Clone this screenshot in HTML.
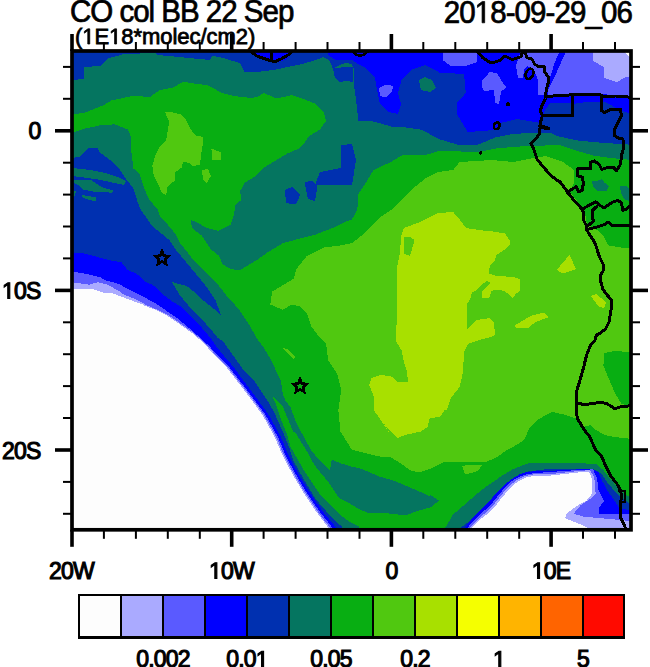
<!DOCTYPE html>
<html><head><meta charset="utf-8">
<style>
html,body{margin:0;padding:0;background:#fff;width:650px;height:667px;overflow:hidden}
svg{position:absolute;left:0;top:0;display:block}
text{font-family:"Liberation Sans",sans-serif;fill:#000;stroke:#000}
</style></head><body>
<svg width="650" height="667" viewBox="0 0 650 667">
<defs><clipPath id="mc"><rect x="72" y="50" width="560" height="480"/></clipPath></defs>
<g clip-path="url(#mc)" shape-rendering="crispEdges">
<rect x="72" y="50" width="560" height="480" fill="#fdfdfd"/>
<path fill="#aaaaff" fill-rule="evenodd" d="M72,50 H632 V530 H72 Z M72.0,288.6 L94.2,289.5 L105.2,293.2 L112.6,293.2 L118.8,295.7 L123.7,297.5 L133.5,301.2 L141.0,303.7 L145.8,306.2 L152.0,308.6 L154.8,309.4 L164.6,314.3 L174.5,320.5 L183.0,326.6 L191.7,332.8 L199.0,339.0 L206.5,346.3 L213.0,353.7 L225.8,366.6 L240.0,384.8 L247.4,394.6 L254.8,404.5 L262.0,414.3 L268.3,425.4 L274.5,436.5 L279.4,448.0 L281.2,452.5 L287.4,464.8 L294.8,478.3 L302.2,490.6 L309.5,501.7 L317.0,512.8 L325.5,523.8 L330.0,530.0 L72.0,530.0 Z M470.0,530.0 L471.5,527.7 L480.8,519.0 L488.5,513.0 L494.6,507.0 L500.8,499.0 L507.0,491.5 L513.0,485.4 L519.0,480.8 L525.4,477.7 L535.0,475.5 L550.0,475.6 L575.0,472.8 L588.8,471.5 L591.5,477.7 L591.5,494.3 L586.0,501.2 L577.7,505.4 L572.0,509.5 L566.6,513.7 L565.2,518.0 L570.8,520.6 L581.8,524.8 L587.4,528.0 L588.0,530.0 L470.0,530.0 Z M623.0,50.0 L632.0,50.0 L632.0,58.0 L627.0,55.0 Z "/>
<path fill="#5a5aff" fill-rule="evenodd" d="M72,50 H632 V530 H72 Z M72.0,282.2 L84.0,284.0 L89.2,284.6 L97.8,282.2 L102.8,283.4 L109.0,285.2 L113.8,288.3 L118.8,290.8 L123.7,294.5 L129.8,297.0 L136.0,299.4 L142.2,302.5 L147.0,305.5 L152.0,307.4 L164.6,313.0 L174.5,319.3 L183.0,325.4 L191.7,331.6 L199.0,337.8 L208.0,346.3 L214.5,353.7 L227.3,366.6 L241.5,384.8 L248.9,394.6 L256.3,404.5 L263.5,414.3 L269.8,425.4 L276.0,436.5 L280.9,448.0 L282.7,452.5 L288.9,464.8 L296.3,478.3 L303.7,490.6 L311.0,501.7 L318.5,512.8 L327.0,523.8 L331.5,530.0 L72.0,530.0 Z M468.0,530.0 L469.5,527.7 L479.0,518.0 L487.0,511.5 L493.0,505.5 L499.3,497.5 L505.5,490.0 L511.5,484.0 L518.0,479.3 L525.0,476.2 L535.0,474.2 L550.0,474.2 L575.0,471.4 L590.0,470.0 L594.3,477.7 L595.7,494.3 L588.8,500.0 L580.5,505.4 L573.5,513.7 L583.2,516.5 L598.5,518.0 L612.3,519.2 L626.0,520.6 L632.0,522.0 L632.0,530.0 Z M593.2,50.0 L593.2,60.8 L604.0,67.2 L604.0,78.0 L617.0,82.3 L623.4,78.0 L632.0,75.8 L632.0,50.0 Z "/>
<path fill="#0000ff" fill-rule="evenodd" d="M72,50 H632 V530 H72 Z M72.0,271.7 L84.3,273.5 L93.0,275.4 L100.3,277.2 L105.2,280.3 L112.6,282.2 L120.0,284.6 L126.2,288.3 L133.5,292.0 L141.0,295.7 L148.3,299.4 L154.8,303.0 L162.0,307.5 L169.5,313.0 L177.0,318.0 L184.3,324.0 L191.7,330.3 L199.0,336.8 L209.5,346.3 L216.0,353.7 L228.8,366.6 L243.1,384.8 L250.5,394.6 L257.9,404.5 L265.1,414.3 L271.5,425.4 L277.7,436.5 L282.6,448.0 L284.4,452.5 L290.6,464.8 L298.1,478.3 L305.5,490.6 L312.8,501.7 L320.6,512.8 L329.4,523.8 L334.0,530.0 L72.0,530.0 Z M466.0,530.0 L467.5,527.7 L477.0,517.0 L485.0,510.0 L491.5,504.0 L497.8,496.0 L504.0,488.5 L510.0,482.5 L517.0,477.8 L524.6,474.7 L535.0,473.0 L550.0,472.0 L577.7,470.0 L593.0,469.4 L597.0,477.7 L598.5,490.0 L604.0,501.2 L598.5,508.0 L598.5,513.7 L612.3,513.7 L632.0,513.7 L632.0,530.0 Z M565.2,50.0 L632.0,50.0 L632.0,96.3 L599.7,94.0 L573.8,94.0 L548.0,96.3 L548.0,90.0 L550.5,85.0 L553.0,80.0 L556.6,72.6 L560.3,64.0 L565.2,53.0 Z M521.0,50.0 L559.0,50.0 L559.0,53.0 L554.0,64.0 L551.7,72.6 L549.2,80.0 L548.0,83.7 L546.0,90.0 L545.5,95.0 L538.0,95.0 L538.0,80.0 L534.0,70.0 L527.0,66.0 L524.0,70.0 L523.0,78.0 L518.0,78.0 L516.0,66.0 L518.0,60.0 Z M442.5,50.0 L442.5,60.0 L450.0,65.5 L465.0,66.0 L477.0,62.0 L477.0,50.0 Z "/>
<polygon fill="#5a5aff" points="482.5,80.3 489.8,72.0 497.2,73.0 501.0,80.3 506.5,87.7 501.0,91.4 499.0,104.3 495.4,102.5 493.5,89.5 484.3,91.4 481.5,85.8"/>
<polygon fill="#5a5aff" points="538.0,75.0 546.0,73.0 548.0,85.0 546.0,95.0 539.0,94.0"/>
<polygon fill="#5a5aff" points="379.0,88.0 386.0,84.5 393.0,86.0 392.0,92.0 386.0,97.4 380.0,96.0"/>
<path fill="#0030b0" fill-rule="evenodd" d="M72,50 H632 V530 H72 Z M72.0,252.3 L84.3,253.5 L94.0,256.0 L102.8,258.5 L112.6,261.0 L121.2,262.0 L127.4,269.8 L136.0,273.5 L141.0,277.2 L145.8,282.2 L152.0,284.6 L157.2,288.5 L164.6,295.8 L173.2,302.0 L181.8,307.0 L189.2,314.3 L196.6,321.7 L204.0,330.3 L211.4,339.0 L216.3,346.3 L222.0,353.7 L233.2,366.6 L246.6,384.8 L253.9,394.6 L261.2,404.5 L268.3,414.3 L274.5,425.4 L280.6,436.5 L285.4,448.0 L287.2,452.5 L293.4,464.8 L300.8,478.3 L308.3,490.6 L315.8,501.7 L323.8,512.8 L333.1,523.8 L338.0,530.0 L72.0,530.0 Z M463.0,530.0 L465.0,527.7 L474.5,515.5 L482.5,508.0 L489.5,501.5 L495.5,494.0 L502.0,486.5 L508.5,480.5 L516.0,475.5 L524.0,472.5 L535.0,471.2 L550.0,470.8 L591.5,468.7 L598.5,472.2 L602.6,481.8 L608.0,491.5 L615.0,501.2 L619.2,508.0 L632.0,511.0 L632.0,530.0 Z M328.0,50.0 L632.0,50.0 L632.0,114.6 L621.0,110.3 L604.0,101.7 L589.0,101.7 L573.8,103.8 L560.0,102.5 L550.8,102.5 L545.0,110.0 L541.0,122.0 L539.7,122.8 L528.6,121.0 L517.5,119.0 L501.0,122.8 L495.4,130.0 L467.7,132.0 L462.2,122.8 L456.6,113.5 L456.6,102.5 L465.8,93.2 L464.0,73.8 L440.0,73.0 L438.0,71.5 L425.2,65.0 L412.3,69.4 L401.5,80.0 L398.0,93.0 L401.0,104.0 L398.0,114.0 L388.0,112.0 L380.0,104.0 L377.0,90.0 L375.0,78.0 L366.0,68.0 L358.0,64.0 L352.0,60.0 L345.0,60.0 L335.0,59.5 L328.0,55.0 Z M250.0,50.0 L296.0,50.0 L285.0,60.0 L274.5,63.0 L262.0,58.0 Z "/>
<polygon fill="#0030b0" points="401.5,80.0 412.3,69.4 425.2,65.0 438.0,71.5 440.0,73.0 464.0,73.8 465.8,93.2 456.6,102.5 456.6,113.5 462.2,122.8 467.7,132.0 440.0,135.0 420.0,128.0 400.0,121.0 398.0,114.0 401.0,104.0 398.0,93.0"/>
<path fill="#057560" fill-rule="evenodd" d="M72,50 H632 V530 H72 Z M72.0,50.0 L632.0,50.0 L632.0,144.8 L599.7,142.6 L578.0,140.5 L556.6,136.0 L550.8,133.0 L532.3,133.0 L513.8,133.8 L495.4,137.5 L477.0,145.0 L458.5,145.0 L440.0,139.4 L429.5,134.0 L421.0,129.7 L405.8,127.5 L390.8,126.5 L380.0,123.2 L371.4,121.0 L358.5,121.0 L356.0,100.0 L354.0,85.0 L354.0,69.0 L351.5,64.0 L345.4,62.8 L339.2,65.2 L333.0,69.0 L329.4,60.3 L323.2,57.2 L314.6,60.3 L302.3,64.0 L290.0,66.5 L276.6,69.4 L261.5,71.5 L244.3,71.5 L240.0,63.0 L225.0,58.6 L212.0,55.4 L210.0,60.0 L158.0,55.0 L155.0,53.0 L124.0,54.0 L107.5,58.6 L100.0,66.0 L84.0,67.0 L84.0,79.0 L72.0,80.0 Z M72.0,159.0 L72.0,530.0 L344.0,530.0 L341.5,526.3 L333.0,519.0 L324.3,509.0 L315.7,499.2 L308.3,487.0 L301.0,474.6 L293.5,461.0 L289.2,447.5 L284.3,435.2 L279.4,424.0 L274.5,413.0 L268.3,402.0 L261.0,391.0 L253.5,379.8 L244.3,371.2 L233.5,356.0 L222.8,341.0 L217.5,337.7 L212.6,331.5 L205.2,323.0 L197.8,315.5 L191.7,309.4 L185.5,302.0 L179.4,294.6 L172.0,282.3 L170.8,281.5 L177.0,283.5 L186.8,286.0 L193.0,291.0 L199.0,297.0 L205.2,302.0 L211.4,307.0 L216.3,310.6 L221.0,315.0 L215.4,300.0 L212.3,295.4 L206.0,286.2 L198.5,277.0 L190.8,267.7 L183.0,258.5 L175.4,249.2 L169.2,240.0 L160.0,232.3 L152.0,226.0 L147.4,219.0 L141.0,210.3 L137.7,202.3 L133.5,188.5 L126.0,179.0 L118.0,167.0 L107.4,157.7 L104.3,155.8 L100.0,152.6 L97.8,148.3 L88.2,148.3 L83.0,154.0 L80.0,156.5 L76.3,157.0 L72.0,159.0 Z M460.8,527.7 L470.0,520.8 L479.2,511.5 L488.5,502.3 L496.2,493.0 L503.8,485.4 L511.5,479.2 L519.2,474.6 L528.5,471.5 L550.0,468.7 L594.3,469.4 L601.2,473.5 L606.8,481.8 L613.7,490.0 L620.6,497.0 L632.0,505.4 L632.0,530.0 Z "/>
<polygon fill="#057560" points="418.8,80.0 425.0,77.0 432.0,80.0 436.0,88.0 430.0,92.0 421.0,90.0"/>
<polygon fill="#057560" points="72.0,168.0 90.0,170.0 105.0,173.0 118.0,177.0 126.0,181.0 124.0,185.0 110.0,182.0 95.0,179.0 80.0,177.0 72.0,176.0"/>
<polygon fill="#057560" points="74.4,180.0 91.2,180.0 102.0,187.2 114.0,190.8 111.5,192.6 96.0,192.0 82.8,189.6 78.0,185.0 74.4,183.0"/>
<polygon fill="#057560" points="81.6,195.0 96.0,197.4 96.0,201.6 82.8,198.0"/>
<polygon fill="#057560" points="72.0,190.0 76.0,191.0 75.0,196.0 72.0,197.0"/>
<polygon fill="#0030b0" points="333.0,68.5 345.0,67.0 353.0,67.3 353.0,82.0 346.0,81.0 339.0,82.0 335.0,78.0"/>
<polygon fill="#0030b0" points="341.0,145.0 352.0,144.0 356.0,160.0 352.0,185.0 315.0,185.0 320.0,172.0 341.0,168.0"/>
<polygon fill="#0030b0" points="285.0,190.0 292.0,187.0 300.0,195.0 296.0,204.5 286.0,203.0"/>
<polygon fill="#0030b0" points="304.6,182.0 312.0,180.8 317.5,186.0 315.0,201.0 308.0,199.0"/>
<polygon fill="#08ae12" points="72.0,114.6 85.0,112.5 104.0,105.0 111.0,100.6 132.0,96.0 143.0,96.5 150.0,97.0 159.3,90.3 172.0,87.8 183.8,81.8 194.0,83.5 207.5,85.2 214.3,88.6 221.0,92.8 234.6,96.2 251.5,98.0 258.0,96.5 263.7,93.0 276.6,98.5 291.7,95.2 304.6,99.5 315.4,103.8 324.0,112.5 326.0,121.0 319.7,129.7 309.0,136.0 304.6,142.6 298.0,149.0 287.4,153.4 276.6,160.0 265.8,166.3 261.5,170.0 255.0,176.5 244.3,183.0 240.0,191.5 241.5,200.0 235.4,204.6 233.8,215.4 230.8,224.6 218.5,230.8 206.0,227.7 198.5,223.0 190.8,220.0 192.0,228.0 201.5,235.4 210.8,249.2 218.5,255.4 223.0,264.6 230.8,269.2 240.0,270.0 249.2,264.6 257.0,260.0 268.0,252.0 283.0,243.2 298.0,239.0 315.4,234.6 332.6,228.0 345.5,221.7 352.0,219.5 357.4,208.8 358.5,193.7 367.0,180.8 373.5,170.0 390.8,162.0 401.5,155.5 427.4,154.5 440.0,150.5 477.0,152.3 495.4,148.6 513.8,146.8 536.0,145.8 560.0,145.0 578.0,151.2 593.2,155.5 610.0,158.0 632.0,160.0 632.0,498.5 623.4,493.0 616.5,486.0 609.5,477.7 602.6,469.4 595.7,463.8 575.0,463.2 550.0,463.2 530.0,463.0 522.3,465.4 513.0,469.2 503.8,474.6 494.6,480.8 485.4,487.0 476.0,494.6 463.8,505.4 453.0,514.6 445.4,527.7 445.0,530.0 360.0,530.0 358.8,526.3 349.0,521.4 339.0,514.0 329.2,504.2 321.8,496.8 313.2,484.5 305.8,473.4 298.5,461.0 292.3,450.0 290.5,447.0 286.8,434.0 281.8,421.7 277.0,407.0 272.0,395.0 283.0,407.0 288.0,419.2 293.0,431.5 298.0,432.0 296.6,425.4 294.0,416.8 290.5,407.0 285.5,400.8 283.0,394.6 280.6,379.8 275.7,370.0 270.2,358.3 263.7,347.5 257.2,339.0 248.6,323.8 240.0,311.0 230.8,300.0 227.7,297.0 221.5,289.2 215.4,281.5 207.7,273.8 200.0,266.2 192.3,258.5 186.2,250.8 180.0,243.0 175.4,233.8 167.7,224.6 160.0,217.0 158.0,210.0 149.0,199.2 144.3,188.5 139.7,174.6 133.5,168.5 130.5,145.4 130.5,136.0 128.0,129.7 115.0,124.3 100.0,125.4 85.0,128.6 72.0,133.0"/>
<polygon fill="#057560" points="286.0,410.0 290.0,410.0 299.0,428.0 311.0,450.0 317.0,457.4 325.5,466.0 330.0,470.0 331.7,459.8 341.5,463.5 349.0,466.0 360.0,468.5 365.0,470.3 380.0,476.8 395.0,481.0 410.0,487.5 425.2,494.0 438.0,500.5 431.7,507.0 416.6,511.2 405.8,515.5 388.6,513.4 369.2,513.4 358.5,509.0 349.0,503.0 339.0,498.0 334.0,490.6 329.2,483.2 324.3,477.0 318.0,469.7 312.0,461.0 307.0,451.5 295.0,432.0"/>
<polygon fill="#057560" points="430.0,494.6 439.0,500.8 433.0,505.0 430.0,503.0"/>
<polygon fill="#057560" points="592.0,181.0 599.0,180.5 605.0,183.0 609.0,186.0 606.0,191.5 598.0,191.0 593.0,187.0"/>
<polygon fill="#057560" points="620.0,186.0 626.0,185.5 629.0,188.0 629.0,201.0 624.0,199.0 621.0,193.0"/>
<polygon fill="#057560" points="596.0,181.0 602.0,179.0 604.0,182.0 598.0,184.0"/>
<polygon fill="#50c810" points="352.0,243.2 362.8,234.6 371.4,226.0 380.0,217.4 393.0,208.8 405.8,195.8 414.5,187.2 425.2,178.6 438.0,172.0 453.2,170.0 459.7,162.0 492.0,160.0 513.5,162.0 535.0,157.7 545.8,156.0 563.0,162.0 574.0,170.0 573.8,183.0 569.5,191.5 578.0,202.3 584.6,211.0 586.8,224.0 597.5,230.3 604.0,236.8 608.3,245.4 621.2,247.5 632.0,247.5 632.0,352.0 628.6,352.0 615.0,351.0 604.5,353.0 603.4,365.7 608.7,378.3 615.0,393.0 621.3,403.5 632.0,407.7 632.0,439.0 615.0,437.0 604.5,435.0 594.0,428.7 591.0,425.0 582.5,427.2 576.0,418.6 563.0,414.3 552.3,412.0 539.4,418.6 528.6,429.4 524.3,440.0 513.5,446.6 507.0,450.0 496.0,457.7 487.0,461.5 460.8,461.5 443.8,462.3 440.3,463.8 429.5,469.2 418.8,472.5 410.0,470.3 401.5,463.8 390.8,457.4 377.8,456.3 365.0,453.0 352.0,449.8 351.2,448.8 340.5,431.5 338.3,410.0 341.2,390.0 337.0,373.4 328.3,360.5 326.0,343.2 317.5,334.6 311.0,326.0 306.8,313.0 300.3,306.6 291.7,304.5 283.0,309.8 270.2,304.5 272.3,291.5 283.0,285.0 293.8,278.6 296.0,270.0 298.0,267.0 306.8,256.0 324.0,247.5 341.0,245.4"/>
<polygon fill="#50c810" points="165.4,112.3 172.3,112.3 181.5,114.6 186.2,120.0 190.8,129.2 195.4,135.4 203.0,137.0 203.0,143.0 201.5,152.3 200.0,164.6 192.3,166.2 189.2,163.0 183.0,161.5 181.5,167.7 175.4,172.3 175.4,180.0 167.7,186.2 166.2,195.4 161.5,192.3 158.5,184.6 153.8,175.4 152.3,166.2 155.4,155.4 160.0,146.2 166.2,140.0 167.7,130.8 169.2,121.5 166.2,115.4"/>
<polygon fill="#50c810" points="202.0,170.0 208.0,169.0 210.8,176.0 207.0,183.0 203.0,180.0"/>
<polygon fill="#50c810" points="211.0,149.0 216.0,150.0 221.5,156.0 215.0,160.0"/>
<polygon fill="#50c810" points="212.0,149.0 220.6,152.0 220.6,160.0 212.0,160.0"/>
<polygon fill="#50c810" points="283.0,348.0 287.0,349.0 295.0,357.0 293.0,359.0"/>
<polygon fill="#50c810" points="462.0,466.0 470.0,464.6 482.0,465.0 478.0,471.0 465.0,474.6"/>
<polygon fill="#a8e000" points="403.7,228.0 421.0,221.7 438.0,213.0 453.2,212.0 459.7,219.5 466.0,228.0 481.2,230.3 492.0,231.4 505.0,233.5 509.5,240.0 509.5,245.4 503.0,250.8 496.6,255.0 494.5,261.5 490.2,264.8 488.5,273.4 495.5,275.5 513.8,277.2 520.3,279.3 520.3,290.6 516.0,293.8 512.8,298.0 508.5,293.8 503.0,290.6 494.5,289.5 491.2,291.7 489.0,298.0 481.5,298.0 481.5,291.7 485.8,287.4 490.2,283.0 487.0,280.5 481.5,285.2 476.0,290.6 471.8,292.8 470.8,298.0 467.5,303.5 467.2,328.8 477.0,320.0 489.8,318.0 494.0,322.0 495.0,335.0 489.8,337.4 481.2,339.5 468.3,343.8 464.0,352.5 463.0,371.8 459.7,387.0 451.0,397.7 446.8,410.0 444.6,410.0 440.3,416.5 429.5,418.6 427.4,427.2 421.0,431.5 405.8,434.8 397.2,438.0 388.6,429.4 380.0,418.6 373.5,410.0 373.5,395.5 369.2,384.8 371.4,378.3 380.0,375.0 390.8,376.0 397.2,381.5 408.0,381.5 407.0,371.8 403.7,361.0 401.5,350.3 396.2,341.7 397.2,290.0 397.2,267.0 399.4,256.0 401.5,234.6"/>
<polygon fill="#a8e000" points="569.5,255.0 576.0,269.0 563.0,273.4 556.6,270.0"/>
<polygon fill="#a8e000" points="514.6,325.5 530.8,315.8 543.7,312.6 549.0,317.0 535.0,322.3 528.6,327.7 515.7,327.7"/>
<polygon fill="#a8e000" points="591.0,296.0 596.0,294.0 606.0,302.0 604.0,308.3 598.0,306.0"/>
<polygon fill="#a8e000" points="373.8,410.0 383.5,423.0 390.0,433.7"/>
<polygon fill="#50c810" points="404.0,237.0 410.0,236.8 414.5,240.0 410.0,256.0 404.0,254.0"/>
<polyline fill="none" stroke="#000" stroke-width="3.0" stroke-linejoin="round" stroke-linecap="round" points="250.8,51.0 256.2,55.8 263.7,58.5 274.5,61.8 281.0,59.0 289.5,54.2 292.8,51.0"/>
<polyline fill="none" stroke="#000" stroke-width="3.0" stroke-linejoin="round" stroke-linecap="round" points="271.8,51.0 271.8,61.0"/>
<polyline fill="none" stroke="#000" stroke-width="2.5" stroke-linejoin="round" stroke-linecap="round" points="353.0,51.5 356.0,54.5 360.0,56.0 364.0,54.5 368.0,51.5"/>
<polyline fill="none" stroke="#000" stroke-width="3.0" stroke-linejoin="round" stroke-linecap="round" points="477.0,51.0 483.0,58.0 490.0,62.5 495.0,62.0 500.0,60.3 505.0,56.0 512.3,59.7 521.0,56.6 522.8,51.0"/>
<polyline fill="none" stroke="#000" stroke-width="3.0" stroke-linejoin="round" stroke-linecap="round" points="524.6,51.0 527.0,57.8 532.0,59.0 534.5,64.0 538.2,66.5 544.3,66.5 545.0,72.6 548.6,77.5 548.0,83.7 546.2,89.8 545.5,98.5 542.5,104.6 540.0,110.8 542.5,115.7 540.6,121.8 540.3,126.0 539.0,134.8 534.8,139.7 531.0,143.4 533.5,148.3 537.2,159.4 542.2,165.5 549.5,174.2 557.0,180.3 560.0,181.8 564.3,187.7 568.6,193.0 573.5,200.0 579.7,206.2 583.4,212.3 584.0,221.0 586.5,225.8 586.5,229.5 589.5,234.5 594.5,241.8 597.0,249.2 599.4,256.6 603.0,264.0 603.0,271.4 600.6,275.0 600.6,281.0 603.0,289.7 606.8,294.6 611.0,299.5 611.7,305.7 610.5,313.0 609.2,321.7 605.5,329.0 600.6,332.8 596.3,335.2 595.0,340.2 590.8,344.7 586.6,355.2 583.5,367.8 579.3,382.5 576.1,393.0 576.1,403.5 577.2,418.2 583.5,428.7 589.8,437.0 595.7,450.0 601.2,455.5 605.4,465.2 611.0,476.3 616.5,483.2 620.6,490.2 621.3,495.7 620.6,505.4 620.6,517.8 624.8,526.2 626.0,531.0"/>
<polyline fill="none" stroke="#000" stroke-width="4.0" stroke-linejoin="round" stroke-linecap="round" points="540.0,126.0 548.0,128.5"/>
<polyline fill="none" stroke="#000" stroke-width="3.0" stroke-linejoin="round" stroke-linecap="round" points="546.2,96.6 560.0,95.4 573.5,94.8 599.4,94.2 602.5,96.0 615.4,96.0 626.5,96.6 633.0,98.5"/>
<polyline fill="none" stroke="#000" stroke-width="3.0" stroke-linejoin="round" stroke-linecap="round" points="572.3,95.0 572.3,115.7 542.5,115.7"/>
<polyline fill="none" stroke="#000" stroke-width="3.0" stroke-linejoin="round" stroke-linecap="round" points="602.0,96.0 601.8,110.8 604.3,112.6 611.7,109.0 620.3,109.0 621.5,115.7 617.8,123.0 614.8,129.2 614.2,135.4 617.8,137.8 622.8,139.0 624.0,144.0 622.8,151.4 622.2,152.3 620.3,164.6 616.6,170.8 613.0,167.0 606.8,167.7 601.8,169.5 599.4,164.6 594.5,161.0 590.8,162.0 590.8,168.3 577.2,169.0 577.2,175.7 582.2,177.0 583.4,183.0 582.2,190.5 578.5,191.7 576.0,186.8 569.8,190.5 567.4,193.0"/>
<polyline fill="none" stroke="#000" stroke-width="3.0" stroke-linejoin="round" stroke-linecap="round" points="583.4,208.6 589.5,205.0 595.7,201.8 599.4,205.0 604.3,208.0 611.7,202.5 617.8,200.3 621.5,202.8 622.8,210.2 626.5,209.0 629.0,206.5 633.0,205.0"/>
<polyline fill="none" stroke="#000" stroke-width="3.0" stroke-linejoin="round" stroke-linecap="round" points="597.0,206.2 592.0,211.0 593.2,221.0 589.5,224.6 586.5,226.0"/>
<polyline fill="none" stroke="#000" stroke-width="3.0" stroke-linejoin="round" stroke-linecap="round" points="587.0,229.5 597.0,227.0 604.3,224.6 608.0,222.0 611.7,225.2 621.5,225.2 633.0,225.8"/>
<polyline fill="none" stroke="#000" stroke-width="3.0" stroke-linejoin="round" stroke-linecap="round" points="577.2,403.5 585.6,404.5 600.3,402.4 606.6,403.5 615.0,408.7 621.3,406.6 633.0,405.6"/>
<polyline fill="none" stroke="#000" stroke-width="2.5" stroke-linejoin="round" stroke-linecap="round" points="619.5,491.0 625.0,491.0 625.0,502.0 620.5,502.0"/>
<ellipse cx="529.5" cy="73.8" rx="3.6" ry="5.3" transform="rotate(25 529.5 73.8)" fill="none" stroke="#000" stroke-width="2.6"/>
<ellipse cx="496.7" cy="125.8" rx="2.8" ry="3.6" transform="rotate(30 496.7 125.8)" fill="none" stroke="#000" stroke-width="2.4"/>
<circle cx="508" cy="104.2" r="2" fill="#000"/>
<circle cx="480.6" cy="153" r="1.8" fill="#000"/>
<polygon fill="none" stroke="#000" stroke-width="2.8" stroke-linejoin="miter" points="162.00,251.40 163.88,255.71 168.56,256.17 165.04,259.29 166.06,263.88 162.00,261.50 157.94,263.88 158.96,259.29 155.44,256.17 160.12,255.71"/>
<polygon fill="none" stroke="#000" stroke-width="2.8" stroke-linejoin="miter" points="300.00,379.30 301.88,383.61 306.56,384.07 303.04,387.19 304.06,391.78 300.00,389.40 295.94,391.78 296.96,387.19 293.44,384.07 298.12,383.61"/>
</g>
<rect x="72" y="51" width="559" height="478.8" fill="none" stroke="#000" stroke-width="3.7"/>
<g stroke="#000" stroke-linecap="butt">
<line x1="72.0" y1="34.0" x2="72.0" y2="51" stroke-width="3.6"/>
<line x1="72.0" y1="529.8" x2="72.0" y2="546.8" stroke-width="3.6"/>
<line x1="103.9" y1="42.0" x2="103.9" y2="51" stroke-width="2.0"/>
<line x1="103.9" y1="529.8" x2="103.9" y2="538.8" stroke-width="2.0"/>
<line x1="135.9" y1="42.0" x2="135.9" y2="51" stroke-width="2.0"/>
<line x1="135.9" y1="529.8" x2="135.9" y2="538.8" stroke-width="2.0"/>
<line x1="167.8" y1="42.0" x2="167.8" y2="51" stroke-width="2.0"/>
<line x1="167.8" y1="529.8" x2="167.8" y2="538.8" stroke-width="2.0"/>
<line x1="199.8" y1="42.0" x2="199.8" y2="51" stroke-width="2.0"/>
<line x1="199.8" y1="529.8" x2="199.8" y2="538.8" stroke-width="2.0"/>
<line x1="231.7" y1="34.0" x2="231.7" y2="51" stroke-width="3.6"/>
<line x1="231.7" y1="529.8" x2="231.7" y2="546.8" stroke-width="3.6"/>
<line x1="263.6" y1="42.0" x2="263.6" y2="51" stroke-width="2.0"/>
<line x1="263.6" y1="529.8" x2="263.6" y2="538.8" stroke-width="2.0"/>
<line x1="295.6" y1="42.0" x2="295.6" y2="51" stroke-width="2.0"/>
<line x1="295.6" y1="529.8" x2="295.6" y2="538.8" stroke-width="2.0"/>
<line x1="327.5" y1="42.0" x2="327.5" y2="51" stroke-width="2.0"/>
<line x1="327.5" y1="529.8" x2="327.5" y2="538.8" stroke-width="2.0"/>
<line x1="359.5" y1="42.0" x2="359.5" y2="51" stroke-width="2.0"/>
<line x1="359.5" y1="529.8" x2="359.5" y2="538.8" stroke-width="2.0"/>
<line x1="391.4" y1="34.0" x2="391.4" y2="51" stroke-width="3.6"/>
<line x1="391.4" y1="529.8" x2="391.4" y2="546.8" stroke-width="3.6"/>
<line x1="423.3" y1="42.0" x2="423.3" y2="51" stroke-width="2.0"/>
<line x1="423.3" y1="529.8" x2="423.3" y2="538.8" stroke-width="2.0"/>
<line x1="455.3" y1="42.0" x2="455.3" y2="51" stroke-width="2.0"/>
<line x1="455.3" y1="529.8" x2="455.3" y2="538.8" stroke-width="2.0"/>
<line x1="487.2" y1="42.0" x2="487.2" y2="51" stroke-width="2.0"/>
<line x1="487.2" y1="529.8" x2="487.2" y2="538.8" stroke-width="2.0"/>
<line x1="519.2" y1="42.0" x2="519.2" y2="51" stroke-width="2.0"/>
<line x1="519.2" y1="529.8" x2="519.2" y2="538.8" stroke-width="2.0"/>
<line x1="551.1" y1="34.0" x2="551.1" y2="51" stroke-width="3.6"/>
<line x1="551.1" y1="529.8" x2="551.1" y2="546.8" stroke-width="3.6"/>
<line x1="583.0" y1="42.0" x2="583.0" y2="51" stroke-width="2.0"/>
<line x1="583.0" y1="529.8" x2="583.0" y2="538.8" stroke-width="2.0"/>
<line x1="615.0" y1="42.0" x2="615.0" y2="51" stroke-width="2.0"/>
<line x1="615.0" y1="529.8" x2="615.0" y2="538.8" stroke-width="2.0"/>
<line x1="63.0" y1="66.9" x2="72" y2="66.9" stroke-width="2.0"/>
<line x1="631" y1="66.9" x2="640.0" y2="66.9" stroke-width="2.0"/>
<line x1="63.0" y1="98.8" x2="72" y2="98.8" stroke-width="2.0"/>
<line x1="631" y1="98.8" x2="640.0" y2="98.8" stroke-width="2.0"/>
<line x1="55.0" y1="130.8" x2="72" y2="130.8" stroke-width="3.6"/>
<line x1="631" y1="130.8" x2="648.0" y2="130.8" stroke-width="3.6"/>
<line x1="63.0" y1="162.7" x2="72" y2="162.7" stroke-width="2.0"/>
<line x1="631" y1="162.7" x2="640.0" y2="162.7" stroke-width="2.0"/>
<line x1="63.0" y1="194.6" x2="72" y2="194.6" stroke-width="2.0"/>
<line x1="631" y1="194.6" x2="640.0" y2="194.6" stroke-width="2.0"/>
<line x1="63.0" y1="226.5" x2="72" y2="226.5" stroke-width="2.0"/>
<line x1="631" y1="226.5" x2="640.0" y2="226.5" stroke-width="2.0"/>
<line x1="63.0" y1="258.4" x2="72" y2="258.4" stroke-width="2.0"/>
<line x1="631" y1="258.4" x2="640.0" y2="258.4" stroke-width="2.0"/>
<line x1="55.0" y1="290.4" x2="72" y2="290.4" stroke-width="3.6"/>
<line x1="631" y1="290.4" x2="648.0" y2="290.4" stroke-width="3.6"/>
<line x1="63.0" y1="322.3" x2="72" y2="322.3" stroke-width="2.0"/>
<line x1="631" y1="322.3" x2="640.0" y2="322.3" stroke-width="2.0"/>
<line x1="63.0" y1="354.2" x2="72" y2="354.2" stroke-width="2.0"/>
<line x1="631" y1="354.2" x2="640.0" y2="354.2" stroke-width="2.0"/>
<line x1="63.0" y1="386.1" x2="72" y2="386.1" stroke-width="2.0"/>
<line x1="631" y1="386.1" x2="640.0" y2="386.1" stroke-width="2.0"/>
<line x1="63.0" y1="418.0" x2="72" y2="418.0" stroke-width="2.0"/>
<line x1="631" y1="418.0" x2="640.0" y2="418.0" stroke-width="2.0"/>
<line x1="55.0" y1="450.0" x2="72" y2="450.0" stroke-width="3.6"/>
<line x1="631" y1="450.0" x2="648.0" y2="450.0" stroke-width="3.6"/>
<line x1="63.0" y1="481.9" x2="72" y2="481.9" stroke-width="2.0"/>
<line x1="631" y1="481.9" x2="640.0" y2="481.9" stroke-width="2.0"/>
<line x1="63.0" y1="513.8" x2="72" y2="513.8" stroke-width="2.0"/>
<line x1="631" y1="513.8" x2="640.0" y2="513.8" stroke-width="2.0"/>
</g>
<g shape-rendering="crispEdges">
<rect x="78" y="594" width="42" height="45" fill="#fdfdfd"/>
<rect x="120" y="594" width="42" height="45" fill="#aaaaff"/>
<rect x="162" y="594" width="42" height="45" fill="#5a5aff"/>
<rect x="204" y="594" width="42" height="45" fill="#0000ff"/>
<rect x="246" y="594" width="42" height="45" fill="#0030b0"/>
<rect x="288" y="594" width="42" height="45" fill="#057560"/>
<rect x="330" y="594" width="42" height="45" fill="#08ae12"/>
<rect x="372" y="594" width="42" height="45" fill="#50c810"/>
<rect x="414" y="594" width="42" height="45" fill="#a8e000"/>
<rect x="456" y="594" width="42" height="45" fill="#f5ff00"/>
<rect x="498" y="594" width="42" height="45" fill="#ffb400"/>
<rect x="540" y="594" width="42" height="45" fill="#ff6400"/>
<rect x="582" y="594" width="42" height="45" fill="#ff0a00"/>
<rect x="78" y="594" width="547" height="2" fill="#000"/>
<rect x="78" y="636" width="547" height="3" fill="#000"/>
<rect x="78" y="594" width="2" height="45" fill="#000"/>
<rect x="623" y="594" width="2" height="45" fill="#000"/>
<rect x="120" y="594" width="2" height="45" fill="#000"/>
<rect x="162" y="594" width="2" height="45" fill="#000"/>
<rect x="204" y="594" width="2" height="45" fill="#000"/>
<rect x="246" y="594" width="2" height="45" fill="#000"/>
<rect x="288" y="594" width="2" height="45" fill="#000"/>
<rect x="330" y="594" width="2" height="45" fill="#000"/>
<rect x="372" y="594" width="2" height="45" fill="#000"/>
<rect x="414" y="594" width="2" height="45" fill="#000"/>
<rect x="456" y="594" width="2" height="45" fill="#000"/>
<rect x="498" y="594" width="2" height="45" fill="#000"/>
<rect x="540" y="594" width="2" height="45" fill="#000"/>
<rect x="582" y="594" width="2" height="45" fill="#000"/>
</g>
<text transform="translate(70,22.2) scale(1,1.05)" font-size="29.5" letter-spacing="-1.0" stroke-width="0.7">CO col BB 22 Sep</text>
<text transform="translate(632,22.8) scale(1,1.05)" font-size="29.5" letter-spacing="-0.9" stroke-width="0.7" text-anchor="end">20&#x2007;8-09-29_06</text>
<text x="75" y="44" font-size="22" letter-spacing="-0.05" stroke-width="0.8">(&#x2007;E&#x2007;8*molec/cm2)</text>
<g font-size="23" stroke-width="1.1" letter-spacing="-0.8">
<text x="40.5" y="138.5" text-anchor="end">0</text>
<text x="40.5" y="298.5" text-anchor="end">&#x2007;0S</text>
<text x="40.5" y="458.5" text-anchor="end">20S</text>
<text x="71.5" y="578.5" text-anchor="middle">20W</text>
<text x="231.5" y="578.5" text-anchor="middle">&#x2007;0W</text>
<text x="391.5" y="578.5" text-anchor="middle">0</text>
<text x="551" y="578.5" text-anchor="middle">&#x2007;0E</text>
<text x="163" y="667" text-anchor="middle">0.002</text>
<text x="247" y="667" text-anchor="middle">0.0&#x2007;</text>
<text x="331" y="667" text-anchor="middle">0.05</text>
<text x="415" y="667" text-anchor="middle">0.2</text>
<text x="499" y="667" text-anchor="middle">&#x2007;</text>
<text x="583" y="667" text-anchor="middle">5</text>
</g>
<path transform="translate(632,22.8) scale(1,1.05) translate(-157.347,0.000) scale(0.014404,-0.014404)" d="M515,0 L515,1237 L197,1010 L197,1180 L530,1409 L696,1409 L696,0 Z" fill="#000" stroke="#000" stroke-width="48.6" stroke-linejoin="miter"/>
<path transform="translate(82.266,44.000) scale(0.010742,-0.010742)" d="M515,0 L515,1237 L197,1010 L197,1180 L530,1409 L696,1409 L696,0 Z" fill="#000" stroke="#000" stroke-width="74.5" stroke-linejoin="miter"/>
<path transform="translate(109.078,44.000) scale(0.010742,-0.010742)" d="M515,0 L515,1237 L197,1010 L197,1180 L530,1409 L696,1409 L696,0 Z" fill="#000" stroke="#000" stroke-width="74.5" stroke-linejoin="miter"/>
<path transform="translate(1.969,298.500) scale(0.011230,-0.011230)" d="M515,0 L515,1237 L197,1010 L197,1180 L530,1409 L696,1409 L696,0 Z" fill="#000" stroke="#000" stroke-width="97.9" stroke-linejoin="miter"/>
<path transform="translate(209.047,578.500) scale(0.011230,-0.011230)" d="M515,0 L515,1237 L197,1010 L197,1180 L530,1409 L696,1409 L696,0 Z" fill="#000" stroke="#000" stroke-width="97.9" stroke-linejoin="miter"/>
<path transform="translate(531.734,578.500) scale(0.011230,-0.011230)" d="M515,0 L515,1237 L197,1010 L197,1180 L530,1409 L696,1409 L696,0 Z" fill="#000" stroke="#000" stroke-width="97.9" stroke-linejoin="miter"/>
<path transform="translate(255.773,667.000) scale(0.011230,-0.011230)" d="M515,0 L515,1237 L197,1010 L197,1180 L530,1409 L696,1409 L696,0 Z" fill="#000" stroke="#000" stroke-width="97.9" stroke-linejoin="miter"/>
<path transform="translate(493.000,667.000) scale(0.011230,-0.011230)" d="M515,0 L515,1237 L197,1010 L197,1180 L530,1409 L696,1409 L696,0 Z" fill="#000" stroke="#000" stroke-width="97.9" stroke-linejoin="miter"/>
</svg>
</body></html>
